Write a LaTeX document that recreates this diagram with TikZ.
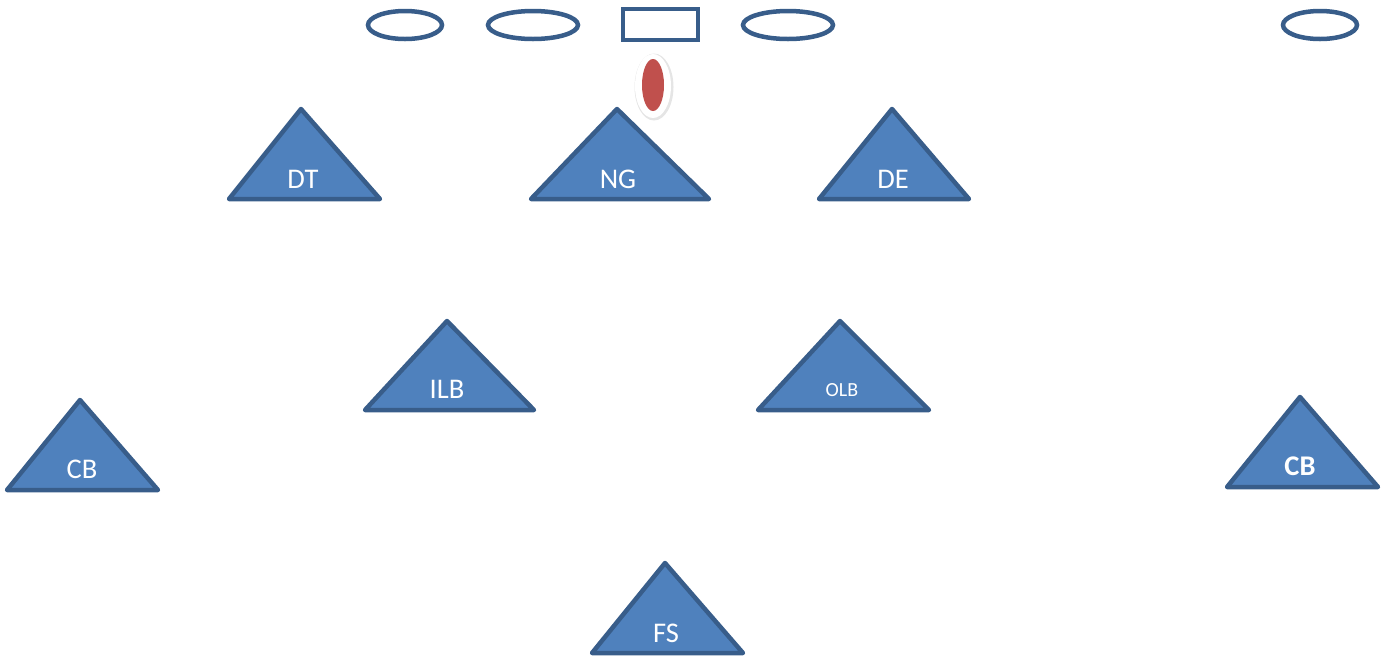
\documentclass[tikz,border=0pt]{standalone}
\usepackage{fontspec}
\setmainfont{Carlito}
\definecolor{pfill}{HTML}{4F81BD}
\definecolor{pline}{HTML}{385D8A}
\definecolor{ball}{HTML}{C0504D}
\begin{document}
\begin{tikzpicture}[x=1pt,y=-1pt,
  player/.style={fill=pfill,draw=pline,line width=4.5pt,line join=round},
  oline/.style={draw=pline,line width=4.5pt},
  lbl/.style={text=white,font=\fontsize{28.5}{28.5}\selectfont,inner sep=0pt},
  lblsmall/.style={text=white,font=\fontsize{20}{20}\selectfont,inner sep=0pt},
  lblbold/.style={text=white,font=\fontsize{28.5}{28.5}\selectfont\bfseries,inner sep=0pt}]
\useasboundingbox (0,0) rectangle (1386,657);
% offensive line
\draw[oline] (405,25) ellipse [x radius=37, y radius=14];
\draw[oline] (533,25) ellipse [x radius=45, y radius=14];
\draw[oline] (623,9) rectangle (698,40);
\draw[oline] (788,25) ellipse [x radius=45, y radius=14];
\draw[oline] (1320,25) ellipse [x radius=37, y radius=14];
% football
\fill[black!10] (654,87) ellipse [x radius=19.5, y radius=33.5];
\fill[white] (653,86) ellipse [x radius=18, y radius=32];
\fill[ball] (653,85) ellipse [x radius=11, y radius=26];
% defenders
\draw[player] (301,109) -- (380,199) -- (229,199) -- cycle;
\draw[player] (617,109) -- (709,199) -- (531,199) -- cycle;
\draw[player] (892,109) -- (969,199) -- (819,199) -- cycle;
\draw[player] (447,321) -- (534,410) -- (365,410) -- cycle;
\draw[player] (840,321) -- (929,410) -- (758,410) -- cycle;
\draw[player] (80,400) -- (158,490) -- (7,490) -- cycle;
\draw[player] (1300,397) -- (1378,487) -- (1227,487) -- cycle;
\draw[player] (665,563) -- (743,653) -- (592,653) -- cycle;
% labels
\node[lbl] (dt) at (303,179) {DT};
\node[lbl] (ng) at (618,179) {NG};
\node[lbl] (de) at (893,179) {DE};
\node[lbl] (ilb) at (447,389) {ILB};
\node[lblsmall] (olb) at (842,390) {OLB};
\node[lbl] (cbl) at (82,469) {CB};
\node[lblbold] (cbr) at (1300,466) {CB};
\node[lbl] (fs) at (666,633) {FS};
\end{tikzpicture}
\end{document}
